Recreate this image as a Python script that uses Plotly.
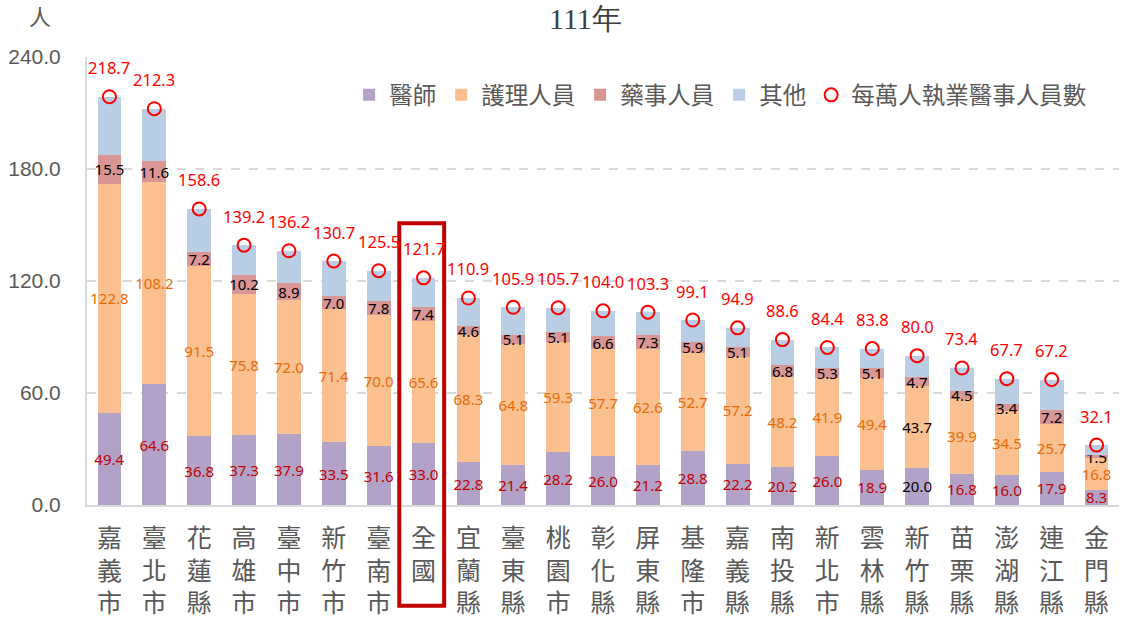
import plotly.graph_objects as go

categories = ["嘉義市", "臺北市", "花蓮縣", "高雄市", "臺中市", "新竹市", "臺南市", "全國",
              "宜蘭縣", "臺東縣", "桃園市", "彰化縣", "屏東縣", "基隆市", "嘉義縣", "南投縣",
              "新北市", "雲林縣", "新竹縣", "苗栗縣", "澎湖縣", "連江縣", "金門縣"]
doctors = [49.4, 64.6, 36.8, 37.3, 37.9, 33.5, 31.6, 33.0, 22.8, 21.4, 28.2, 26.0, 21.2, 28.8,
           22.2, 20.2, 26.0, 18.9, 20.0, 16.8, 16.0, 17.9, 8.3]
nurses = [122.8, 108.2, 91.5, 75.8, 72.0, 71.4, 70.0, 65.6, 68.3, 64.8, 59.3, 57.7, 62.6, 52.7,
          57.2, 48.2, 41.9, 49.4, 43.7, 39.9, 34.5, 25.7, 16.8]
pharmacists = [15.5, 11.6, 7.2, 10.2, 8.9, 7.0, 7.8, 7.4, 4.6, 5.1, 5.1, 6.6, 7.3, 5.9, 5.1, 6.8,
               5.3, 5.1, 4.7, 4.5, 3.4, 7.2, 1.5]
others = [31.0, 27.9, 23.1, 15.9, 17.4, 18.8, 16.1, 15.7, 15.2, 14.6, 13.1, 13.7, 12.2, 11.7,
          10.4, 13.4, 11.2, 10.4, 11.6, 12.2, 13.8, 16.4, 5.5]
totals = [218.7, 212.3, 158.6, 139.2, 136.2, 130.7, 125.5, 121.7, 110.9, 105.9, 105.7, 104.0,
          103.3, 99.1, 94.9, 88.6, 84.4, 83.8, 80.0, 73.4, 67.7, 67.2, 32.1]
y_ticks = [0, 60, 120, 180, 240]

x_labels = ["<br>".join(c) for c in categories]

C_DOC = "#b3a2c7"
C_NUR = "#fac090"
C_PHA = "#d99694"
C_OTH = "#b9cde5"
GRAY = "#595959"
LABEL_FONT = "Noto Sans"

doc_colors = ["#000000" if c == "新竹縣" else "#c00000" for c in categories]
nur_colors = ["#000000" if c == "新竹縣" else "#e46c0a" for c in categories]

fig = go.Figure()
fig.add_trace(go.Bar(name="醫師", x=x_labels, y=doctors, marker=dict(color=C_DOC, line_width=0),
                     text=[f"{v:.1f}" for v in doctors], textposition="inside",
                     insidetextanchor="middle", textangle=0,
                     textfont=dict(color=doc_colors, size=15, family=LABEL_FONT)))
fig.add_trace(go.Bar(name="護理人員", x=x_labels, y=nurses, marker=dict(color=C_NUR, line_width=0),
                     text=[f"{v:.1f}" for v in nurses], textposition="inside",
                     insidetextanchor="middle", textangle=0,
                     textfont=dict(color=nur_colors, size=15, family=LABEL_FONT)))
fig.add_trace(go.Bar(name="藥事人員", x=x_labels, y=pharmacists, marker=dict(color=C_PHA, line_width=0),
                     text=[f"{v:.1f}" for v in pharmacists], textposition="inside",
                     insidetextanchor="middle", textangle=0,
                     textfont=dict(color="#000000", size=15, family=LABEL_FONT)))
fig.add_trace(go.Bar(name="其他", x=x_labels, y=others, marker=dict(color=C_OTH, line_width=0),
                     hoverinfo="skip"))
fig.add_trace(go.Scatter(name="每萬人執業醫事人員數", x=x_labels, y=totals, mode="markers",
                         marker=dict(symbol="circle-open", size=13, color="#ff0000",
                                     line=dict(width=2, color="#ff0000"))))

for xl, t in zip(x_labels, totals):
    fig.add_annotation(x=xl, y=t, text=f"{t:.1f}", showarrow=False, yshift=29,
                       font=dict(color="#ff0000", size=16.5, family=LABEL_FONT))

# highlight box around 全國
fig.add_shape(type="rect", xref="x", yref="paper", x0=6.46, x1=7.46, y0=-0.225, y1=0.629,
              line=dict(color="#c00000", width=4), fillcolor="rgba(0,0,0,0)")

fig.add_annotation(xref="paper", yref="paper", x=0.483, y=1.0, xanchor="center", yanchor="middle",
                   yshift=39, text="111年", showarrow=False,
                   font=dict(family="Liberation Serif", size=30, color="#404040"))
fig.add_annotation(xref="paper", yref="paper", x=-0.046, y=1.0, xanchor="center", yanchor="bottom",
                   yshift=24, text="人", showarrow=False,
                   font=dict(family="Noto Sans CJK TC", size=22, color=GRAY))

fig.update_layout(
    barmode="stack",
    bargap=0.47,
    width=1125, height=619,
    margin=dict(l=87, r=6, t=57, b=114, autoexpand=False),
    plot_bgcolor="white", paper_bgcolor="white",
    uniformtext=dict(minsize=15, mode="show"),
    showlegend=True,
    legend=dict(orientation="h", x=0.254, y=0.915, xanchor="left", yanchor="middle",
                font=dict(family="Noto Sans CJK TC", size=23.5, color=GRAY),
                bgcolor="rgba(0,0,0,0)", traceorder="normal"),
    xaxis=dict(type="category", range=[-0.5, len(categories) - 0.5], showgrid=False,
               automargin=False,
               showline=True, linecolor="#d9d9d9", linewidth=2,
               ticks="", tickfont=dict(family="Noto Sans CJK TC", size=25, color=GRAY),
               ticklabelstandoff=10),
    yaxis=dict(range=[0, 240], tickvals=y_ticks, tickformat=".1f", showgrid=True,
               automargin=False,
               gridcolor="#d9d9d9", griddash="dash", gridwidth=1.5, zeroline=False,
               showline=True, linecolor="#d9d9d9", linewidth=2, ticks="",
               tickfont=dict(family="Liberation Sans", size=21, color=GRAY),
               ticklabelstandoff=20),
)

fig.write_html("out.html", config={"displayModeBar": False},
               post_script="document.body.style.margin='0px';")
